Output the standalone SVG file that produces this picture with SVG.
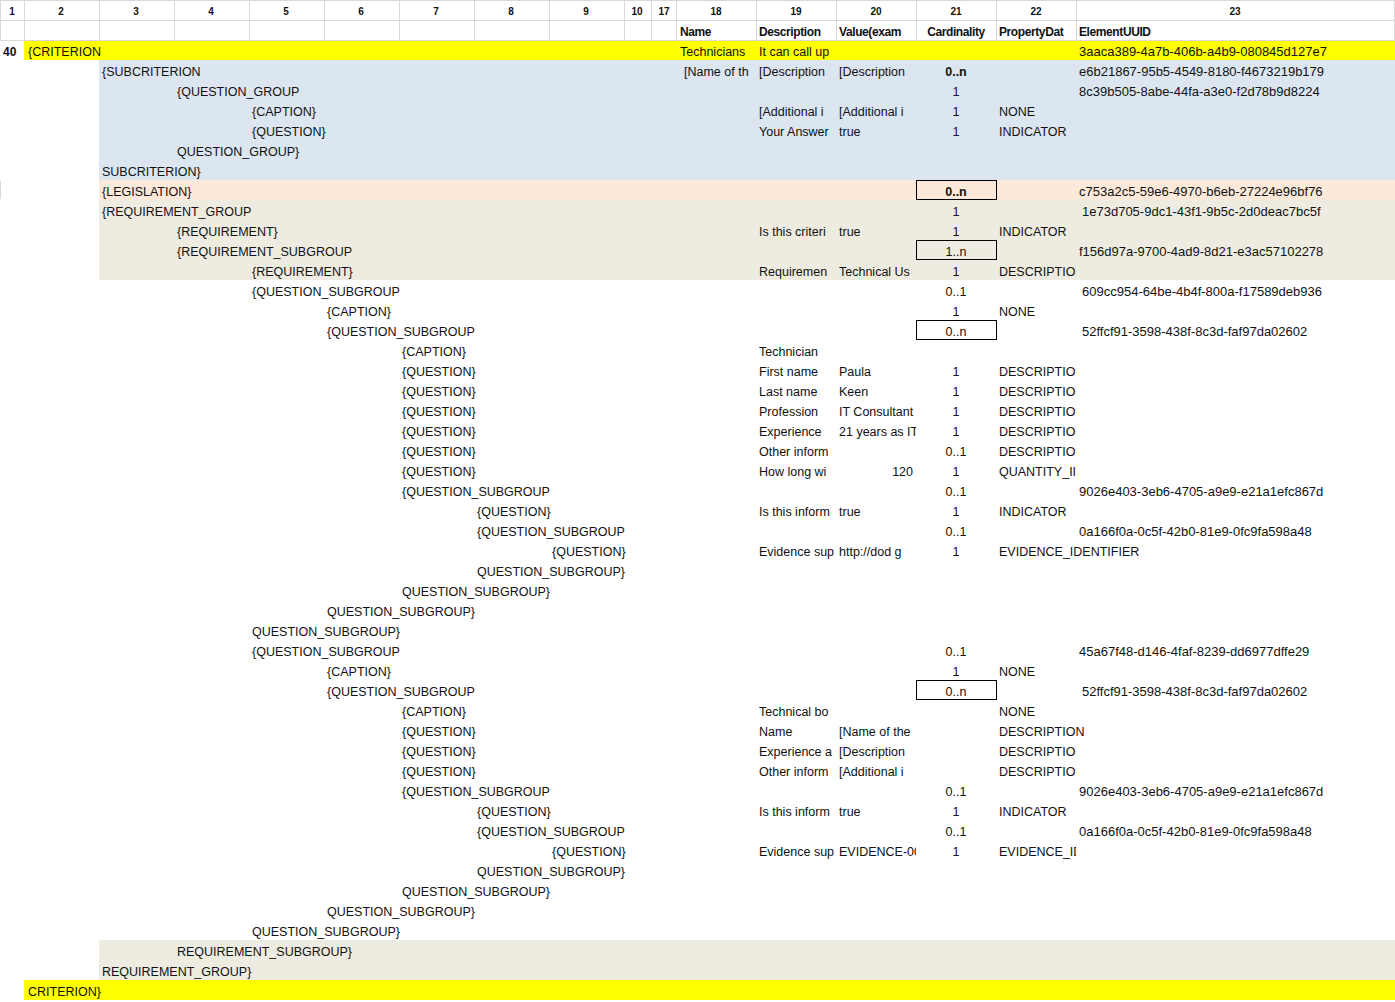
<svg xmlns="http://www.w3.org/2000/svg" width="1395" height="1002" viewBox="0 0 1395 1002">
<style>
text{font-family:"Liberation Sans",Arial,sans-serif;font-size:12.5px;fill:#111}
.m{text-anchor:middle}
.b{font-weight:bold}
.u{font-size:13px}
.hn{font-weight:900;font-size:10px;text-anchor:middle}
.hh{font-weight:900;font-size:12px;letter-spacing:-0.4px}
.g{stroke:#d9d9d9;stroke-width:1;fill:none}
.bx{stroke:#000;stroke-width:1;fill:none}
.y{fill:#ffff00}.bl{fill:#dce6f1}.pe{fill:#fde9d9}.be{fill:#eeece1}
</style>
<defs>
<clipPath id="c18"><rect x="676" y="0" width="80" height="1002"/></clipPath>
<clipPath id="c19"><rect x="756" y="0" width="80" height="1002"/></clipPath>
<clipPath id="c20"><rect x="836" y="0" width="80" height="1002"/></clipPath>
<clipPath id="c22"><rect x="996" y="0" width="80" height="1002"/></clipPath>
</defs>
<rect x="0" y="0" width="1395" height="1002" fill="#fff"/>
<g id="fills">
<rect class="y" x="24" y="40" width="1371" height="20"/>
<rect class="bl" x="99" y="60" width="1296" height="120"/>
<rect class="pe" x="99" y="180" width="1296" height="20"/>
<rect class="be" x="99" y="200" width="1296" height="80"/>
<rect class="be" x="99" y="940" width="1296" height="40"/>
<rect class="y" x="24" y="980" width="1371" height="20"/>
</g>
<g id="grid">
<path class="g" d="M0 0.5H1395M0 20.5H1395M0 40.5H1395M0.5 0V40M24.5 0V40M99.5 0V40M174.5 0V40M249.5 0V40M324.5 0V40M399.5 0V40M474.5 0V40M549.5 0V40M624.5 0V40M651.5 0V40M676.5 0V40M756.5 0V40M836.5 0V40M916.5 0V40M996.5 0V40M1076.5 0V40M1394.5 0V40M0.5 181V199"/>
</g>
<g id="header">
<text class="hn" x="12" y="15">1</text><text class="hn" x="61" y="15">2</text><text class="hn" x="136" y="15">3</text><text class="hn" x="211" y="15">4</text><text class="hn" x="286" y="15">5</text><text class="hn" x="361" y="15">6</text><text class="hn" x="436" y="15">7</text><text class="hn" x="511" y="15">8</text><text class="hn" x="586" y="15">9</text><text class="hn" x="637" y="15">10</text><text class="hn" x="664" y="15">17</text><text class="hn" x="716" y="15">18</text><text class="hn" x="796" y="15">19</text><text class="hn" x="876" y="15">20</text><text class="hn" x="956" y="15">21</text><text class="hn" x="1036" y="15">22</text><text class="hn" x="1235" y="15">23</text>
<text class="hh" x="680" y="36">Name</text>
<text class="hh" x="759" y="36">Description</text>
<text class="hh" x="839" y="36" clip-path="url(#c20)">Value(exam</text>
<text class="hh m" x="956" y="36">Cardinality</text>
<text class="hh" x="999" y="36" clip-path="url(#c22)">PropertyDat</text>
<text class="hh" x="1079" y="36">ElementUUID</text>
</g>
<g id="boxes">
<rect class="bx" x="916.5" y="180.5" width="80" height="19"/>
<rect class="bx" x="916.5" y="240.5" width="80" height="19"/>
<rect class="bx" x="916.5" y="320.5" width="80" height="19"/>
<rect class="bx" x="916.5" y="680.5" width="80" height="19"/>
</g>
<g id="r40"><text class="b" x="3" y="56" style="font-size:12px;font-weight:900">40</text><text x="28" y="56">{CRITERION</text><text x="680" y="56" clip-path="url(#c18)">Technicians</text><text x="759" y="56">It can call up</text><text class="u" x="1079" y="56">3aaca389-4a7b-406b-a4b9-080845d127e7</text></g>
<g id="r60"><text x="102" y="76">{SUBCRITERION</text><text x="684" y="76" clip-path="url(#c18)">[Name of th</text><text x="759" y="76" clip-path="url(#c19)">[Description</text><text x="839" y="76" clip-path="url(#c20)">[Description</text><text class="m b" x="956" y="76">0..n</text><text class="u" x="1079" y="76">e6b21867-95b5-4549-8180-f4673219b179</text></g>
<g id="r80"><text x="177" y="96">{QUESTION_GROUP</text><text class="m" x="956" y="96">1</text><text class="u" x="1079" y="96">8c39b505-8abe-44fa-a3e0-f2d78b9d8224</text></g>
<g id="r100"><text x="252" y="116">{CAPTION}</text><text x="759" y="116" clip-path="url(#c19)">[Additional i</text><text x="839" y="116" clip-path="url(#c20)">[Additional i</text><text class="m" x="956" y="116">1</text><text x="999" y="116">NONE</text></g>
<g id="r120"><text x="252" y="136">{QUESTION}</text><text x="759" y="136" clip-path="url(#c19)">Your Answer</text><text x="839" y="136">true</text><text class="m" x="956" y="136">1</text><text x="999" y="136">INDICATOR</text></g>
<g id="r140"><text x="177" y="156">QUESTION_GROUP}</text></g>
<g id="r160"><text x="102" y="176">SUBCRITERION}</text></g>
<g id="r180"><text x="102" y="196">{LEGISLATION}</text><text class="m b" x="956" y="196">0..n</text><text class="u" x="1079" y="196">c753a2c5-59e6-4970-b6eb-27224e96bf76</text></g>
<g id="r200"><text x="102" y="216">{REQUIREMENT_GROUP</text><text class="m" x="956" y="216">1</text><text class="u" x="1082" y="216">1e73d705-9dc1-43f1-9b5c-2d0deac7bc5f</text></g>
<g id="r220"><text x="177" y="236">{REQUIREMENT}</text><text x="759" y="236" clip-path="url(#c19)">Is this criteri</text><text x="839" y="236">true</text><text class="m" x="956" y="236">1</text><text x="999" y="236">INDICATOR</text></g>
<g id="r240"><text x="177" y="256">{REQUIREMENT_SUBGROUP</text><text class="m" x="956" y="256">1..n</text><text class="u" x="1079" y="256">f156d97a-9700-4ad9-8d21-e3ac57102278</text></g>
<g id="r260"><text x="252" y="276">{REQUIREMENT}</text><text x="759" y="276" clip-path="url(#c19)">Requiremen</text><text x="839" y="276" clip-path="url(#c20)">Technical Us</text><text class="m" x="956" y="276">1</text><text x="999" y="276" clip-path="url(#c22)">DESCRIPTION</text></g>
<g id="r280"><text x="252" y="296">{QUESTION_SUBGROUP</text><text class="m" x="956" y="296">0..1</text><text class="u" x="1082" y="296">609cc954-64be-4b4f-800a-f17589deb936</text></g>
<g id="r300"><text x="327" y="316">{CAPTION}</text><text class="m" x="956" y="316">1</text><text x="999" y="316">NONE</text></g>
<g id="r320"><text x="327" y="336">{QUESTION_SUBGROUP</text><text class="m" x="956" y="336">0..n</text><text class="u" x="1082" y="336">52ffcf91-3598-438f-8c3d-faf97da02602</text></g>
<g id="r340"><text x="402" y="356">{CAPTION}</text><text x="759" y="356">Technician</text></g>
<g id="r360"><text x="402" y="376">{QUESTION}</text><text x="759" y="376" clip-path="url(#c19)">First name</text><text x="839" y="376">Paula</text><text class="m" x="956" y="376">1</text><text x="999" y="376" clip-path="url(#c22)">DESCRIPTION</text></g>
<g id="r380"><text x="402" y="396">{QUESTION}</text><text x="759" y="396" clip-path="url(#c19)">Last name</text><text x="839" y="396">Keen</text><text class="m" x="956" y="396">1</text><text x="999" y="396" clip-path="url(#c22)">DESCRIPTION</text></g>
<g id="r400"><text x="402" y="416">{QUESTION}</text><text x="759" y="416" clip-path="url(#c19)">Profession</text><text x="839" y="416" clip-path="url(#c20)">IT Consultant</text><text class="m" x="956" y="416">1</text><text x="999" y="416" clip-path="url(#c22)">DESCRIPTION</text></g>
<g id="r420"><text x="402" y="436">{QUESTION}</text><text x="759" y="436" clip-path="url(#c19)">Experience</text><text x="839" y="436" clip-path="url(#c20)">21 years as IT</text><text class="m" x="956" y="436">1</text><text x="999" y="436" clip-path="url(#c22)">DESCRIPTION</text></g>
<g id="r440"><text x="402" y="456">{QUESTION}</text><text x="759" y="456" clip-path="url(#c19)">Other inform</text><text class="m" x="956" y="456">0..1</text><text x="999" y="456" clip-path="url(#c22)">DESCRIPTION</text></g>
<g id="r460"><text x="402" y="476">{QUESTION}</text><text x="759" y="476" clip-path="url(#c19)">How long wi</text><text x="913" y="476" style="text-anchor:end">120</text><text class="m" x="956" y="476">1</text><text x="999" y="476" clip-path="url(#c22)">QUANTITY_II</text></g>
<g id="r480"><text x="402" y="496">{QUESTION_SUBGROUP</text><text class="m" x="956" y="496">0..1</text><text class="u" x="1079" y="496">9026e403-3eb6-4705-a9e9-e21a1efc867d</text></g>
<g id="r500"><text x="477" y="516">{QUESTION}</text><text x="759" y="516" clip-path="url(#c19)">Is this inform</text><text x="839" y="516">true</text><text class="m" x="956" y="516">1</text><text x="999" y="516">INDICATOR</text></g>
<g id="r520"><text x="477" y="536">{QUESTION_SUBGROUP</text><text class="m" x="956" y="536">0..1</text><text class="u" x="1079" y="536">0a166f0a-0c5f-42b0-81e9-0fc9fa598a48</text></g>
<g id="r540"><text x="552" y="556">{QUESTION}</text><text x="759" y="556" clip-path="url(#c19)">Evidence sup</text><text x="839" y="556" clip-path="url(#c20)">http://dod g</text><text class="m" x="956" y="556">1</text><text x="999" y="556">EVIDENCE_IDENTIFIER</text></g>
<g id="r560"><text x="477" y="576">QUESTION_SUBGROUP}</text></g>
<g id="r580"><text x="402" y="596">QUESTION_SUBGROUP}</text></g>
<g id="r600"><text x="327" y="616">QUESTION_SUBGROUP}</text></g>
<g id="r620"><text x="252" y="636">QUESTION_SUBGROUP}</text></g>
<g id="r640"><text x="252" y="656">{QUESTION_SUBGROUP</text><text class="m" x="956" y="656">0..1</text><text class="u" x="1079" y="656">45a67f48-d146-4faf-8239-dd6977dffe29</text></g>
<g id="r660"><text x="327" y="676">{CAPTION}</text><text class="m" x="956" y="676">1</text><text x="999" y="676">NONE</text></g>
<g id="r680"><text x="327" y="696">{QUESTION_SUBGROUP</text><text class="m" x="956" y="696">0..n</text><text class="u" x="1082" y="696">52ffcf91-3598-438f-8c3d-faf97da02602</text></g>
<g id="r700"><text x="402" y="716">{CAPTION}</text><text x="759" y="716" clip-path="url(#c19)">Technical bo</text><text x="999" y="716">NONE</text></g>
<g id="r720"><text x="402" y="736">{QUESTION}</text><text x="759" y="736">Name</text><text x="839" y="736" clip-path="url(#c20)">[Name of the</text><text x="999" y="736">DESCRIPTION</text></g>
<g id="r740"><text x="402" y="756">{QUESTION}</text><text x="759" y="756" clip-path="url(#c19)">Experience a</text><text x="839" y="756" clip-path="url(#c20)">[Description</text><text x="999" y="756" clip-path="url(#c22)">DESCRIPTION</text></g>
<g id="r760"><text x="402" y="776">{QUESTION}</text><text x="759" y="776" clip-path="url(#c19)">Other inform</text><text x="839" y="776" clip-path="url(#c20)">[Additional i</text><text x="999" y="776" clip-path="url(#c22)">DESCRIPTION</text></g>
<g id="r780"><text x="402" y="796">{QUESTION_SUBGROUP</text><text class="m" x="956" y="796">0..1</text><text class="u" x="1079" y="796">9026e403-3eb6-4705-a9e9-e21a1efc867d</text></g>
<g id="r800"><text x="477" y="816">{QUESTION}</text><text x="759" y="816" clip-path="url(#c19)">Is this inform</text><text x="839" y="816">true</text><text class="m" x="956" y="816">1</text><text x="999" y="816">INDICATOR</text></g>
<g id="r820"><text x="477" y="836">{QUESTION_SUBGROUP</text><text class="m" x="956" y="836">0..1</text><text class="u" x="1079" y="836">0a166f0a-0c5f-42b0-81e9-0fc9fa598a48</text></g>
<g id="r840"><text x="552" y="856">{QUESTION}</text><text x="759" y="856" clip-path="url(#c19)">Evidence sup</text><text x="839" y="856" clip-path="url(#c20)">EVIDENCE-00</text><text class="m" x="956" y="856">1</text><text x="999" y="856" clip-path="url(#c22)">EVIDENCE_ID</text></g>
<g id="r860"><text x="477" y="876">QUESTION_SUBGROUP}</text></g>
<g id="r880"><text x="402" y="896">QUESTION_SUBGROUP}</text></g>
<g id="r900"><text x="327" y="916">QUESTION_SUBGROUP}</text></g>
<g id="r920"><text x="252" y="936">QUESTION_SUBGROUP}</text></g>
<g id="r940"><text x="177" y="956">REQUIREMENT_SUBGROUP}</text></g>
<g id="r960"><text x="102" y="976">REQUIREMENT_GROUP}</text></g>
<g id="r980"><text x="28" y="996">CRITERION}</text></g>
<g id="connectors"/>
</svg>
